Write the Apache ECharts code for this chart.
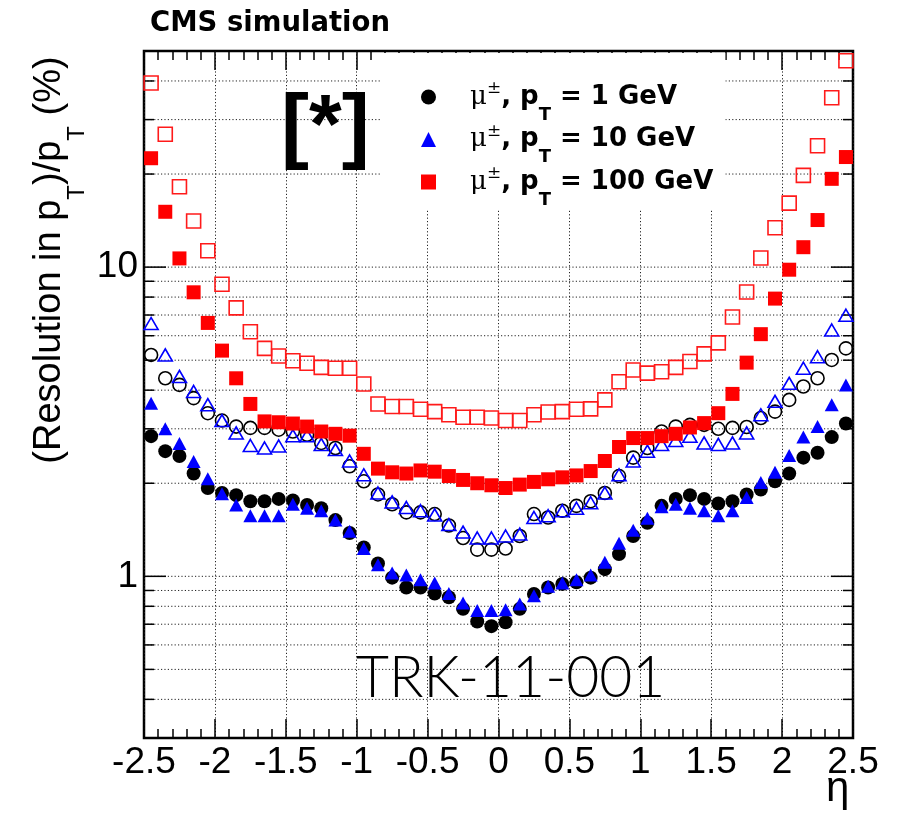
<!DOCTYPE html>
<html>
<head>
<meta charset="utf-8">
<title>CMS simulation - pT resolution vs eta</title>
<script src="https://cdn.jsdelivr.net/npm/echarts@6/dist/echarts.min.js"></script>
<style>
  html, body { margin: 0; padding: 0; background: #fff; }
  #chart { width: 902px; height: 823px; }
</style>
</head>
<body>
<div id="chart"></div>
<script>
// bin centres in eta (bins of 0.1)
const etaBins = [-2.45, -2.35, -2.25, -2.15, -2.05, -1.95, -1.85, -1.75, -1.65, -1.55,
  -1.45, -1.35, -1.25, -1.15, -1.05, -0.95, -0.85, -0.75, -0.65, -0.55,
  -0.45, -0.35, -0.25, -0.15, -0.05, 0.05, 0.15, 0.25, 0.35, 0.45,
  0.55, 0.65, 0.75, 0.85, 0.95, 1.05, 1.15, 1.25, 1.35, 1.45,
  1.55, 1.65, 1.75, 1.85, 1.95, 2.05, 2.15, 2.25, 2.35, 2.45];

// filled markers
const res1GeV = [2.84, 2.54, 2.45, 2.15, 1.93, 1.86, 1.83, 1.75, 1.75, 1.78,
  1.76, 1.70, 1.66, 1.52, 1.38, 1.24, 1.10, 0.99, 0.92, 0.92,
  0.88, 0.856, 0.785, 0.714, 0.69, 0.71, 0.785, 0.877, 0.92, 0.945,
  0.956, 0.99, 1.055, 1.18, 1.35, 1.49, 1.69, 1.78, 1.83, 1.78,
  1.72, 1.75, 1.84, 1.91, 2.03, 2.15, 2.42, 2.51, 2.82, 3.12];
const res10GeV = [3.63, 3.00, 2.69, 2.35, 2.07, 1.85, 1.70, 1.57, 1.57, 1.57,
  1.71, 1.66, 1.63, 1.52, 1.40, 1.23, 1.09, 1.025, 1.01, 0.975,
  0.952, 0.88, 0.82, 0.775, 0.775, 0.779, 0.814, 0.866, 0.929, 0.952,
  0.975, 1.01, 1.11, 1.28, 1.41, 1.54, 1.68, 1.71, 1.66, 1.63,
  1.57, 1.63, 1.80, 2.01, 2.17, 2.46, 2.82, 3.05, 3.59, 4.16];
const res100GeV = [22.5, 15.1, 10.67, 8.29, 6.60, 5.37, 4.37, 3.61, 3.17, 3.15,
  3.12, 3.05, 2.94, 2.89, 2.85, 2.49, 2.23, 2.17, 2.15, 2.20,
  2.18, 2.11, 2.05, 2.00, 1.97, 1.93, 1.98, 2.02, 2.06, 2.09,
  2.12, 2.19, 2.36, 2.62, 2.80, 2.80, 2.84, 2.89, 3.03, 3.13,
  3.37, 3.89, 4.91, 6.07, 7.91, 9.81, 11.6, 14.2, 19.3, 22.7];

// open markers
const res1GeVOpen = [5.20, 4.37, 4.16, 3.77, 3.37, 3.19, 3.05, 3.02, 3.02, 2.98,
  2.94, 2.87, 2.70, 2.60, 2.27, 2.03, 1.84, 1.71, 1.61, 1.61,
  1.59, 1.46, 1.33, 1.22, 1.22, 1.23, 1.35, 1.59, 1.55, 1.63,
  1.69, 1.75, 1.86, 2.11, 2.42, 2.60, 2.94, 3.05, 3.09, 3.09,
  3.00, 3.02, 3.04, 3.25, 3.41, 3.72, 4.11, 4.37, 5.01, 5.46];
const res10GeVOpen = [6.57, 5.20, 4.43, 3.96, 3.59, 3.19, 2.91, 2.65, 2.60, 2.64,
  2.85, 2.85, 2.67, 2.57, 2.36, 2.13, 1.86, 1.74, 1.67, 1.63,
  1.58, 1.47, 1.39, 1.33, 1.33, 1.35, 1.37, 1.55, 1.57, 1.63,
  1.66, 1.73, 1.86, 2.13, 2.36, 2.54, 2.67, 2.75, 2.84, 2.70,
  2.67, 2.70, 2.91, 3.33, 3.68, 4.21, 4.71, 5.13, 6.26, 6.99];
const res100GeVOpen = [39.4, 26.9, 18.2, 14.1, 11.3, 8.80, 7.38, 6.18, 5.46, 5.16,
  4.98, 4.89, 4.74, 4.71, 4.71, 4.19, 3.61, 3.54, 3.54, 3.47,
  3.41, 3.33, 3.27, 3.27, 3.25, 3.19, 3.19, 3.33, 3.40, 3.41,
  3.47, 3.48, 3.72, 4.26, 4.65, 4.54, 4.59, 4.74, 4.95, 5.24,
  5.69, 6.90, 8.31, 10.7, 13.4, 16.1, 19.8, 24.7, 35.3, 46.5];

// axes
const etaMin = -2.5, etaMax = 2.5;
const resMin = 0.3, resMax = 50;
const yGridValues = [0.4, 0.5, 0.6, 0.7, 0.8, 0.9, 1, 2, 3, 4, 5, 6, 7, 8, 9, 10, 20, 30, 40];
const yMajorTicks = [1, 10];

const seriesNames = ['\u03bc\u00b1, pT = 1 GeV', '\u03bc\u00b1, pT = 10 GeV', '\u03bc\u00b1, pT = 100 GeV'];
const legendRich = [
  '{mu|\u03bc}{sup|\u00b1}{b|, p}{sub|T}{b| = 1 GeV}',
  '{mu|\u03bc}{sup|\u00b1}{b|, p}{sub|T}{b| = 10 GeV}',
  '{mu|\u03bc}{sup|\u00b1}{b|, p}{sub|T}{b| = 100 GeV}'
];

const chart = echarts.init(document.getElementById('chart'));

function pairs(values) {
  return etaBins.map((e, i) => [e, values[i]]);
}

// dotted horizontal grid + left/right ticks, placed through the log axis
function gridItem(params, api) {
  const v = api.value(1);
  const a = api.coord([etaMin, v]);
  const b = api.coord([etaMax, v]);
  const t = yMajorTicks.indexOf(v) >= 0 ? 22 : 10;
  return {
    type: 'group',
    children: [
      { type: 'line', shape: { x1: a[0], y1: a[1], x2: b[0], y2: b[1] },
        style: { stroke: '#222', lineWidth: 1, lineDash: [1.2, 2.2] } },
      { type: 'line', shape: { x1: a[0], y1: a[1], x2: a[0] + t, y2: a[1] },
        style: { stroke: '#000', lineWidth: 1.5 } },
      { type: 'line', shape: { x1: b[0] - t, y1: b[1], x2: b[0], y2: b[1] },
        style: { stroke: '#000', lineWidth: 1.5 } }
    ]
  };
}

const openStyle = color => ({ color: 'rgba(0,0,0,0)', borderColor: color, borderWidth: 1.6, opacity: 1 });
const fillStyle = color => ({ color: color, opacity: 1 });

const tickStyle = { color: '#000', width: 1.5 };

chart.setOption({
  animation: false,
  backgroundColor: '#fff',
  title: [
    { text: 'CMS simulation', left: 150, top: 10, padding: 0,
      textStyle: { fontFamily: 'DejaVu Sans', fontWeight: 'bold', fontSize: 27.5, color: '#000' } },
    { text: '[*]', left: 281, top: 88, padding: 0,
      textStyle: { fontFamily: 'Liberation Sans', fontWeight: 'bold', fontSize: 84, color: '#000' } },
    { text: 'TRK-11-001', left: 356, top: 650, padding: 0,
      textStyle: { fontFamily: 'Lato', fontWeight: 300, fontSize: 57, color: '#000' } },
    { text: '\u03b7', left: 826, top: 768, padding: 0,
      textStyle: { fontFamily: 'Liberation Sans', fontWeight: 'normal', fontSize: 42, color: '#000' } }
  ],
  graphic: [{
    type: 'text',
    x: 50, y: 260,
    rotation: Math.PI / 2,
    style: {
      text: '(Resolution in p{sub|T})/p{sub|T} (%)',
      fontFamily: 'Liberation Sans', fontSize: 38, fill: '#000',
      align: 'center', verticalAlign: 'middle',
      rich: {
        sub: { fontFamily: 'Liberation Sans', fontSize: 24, lineHeight: 24, padding: [54, 0, 0, 0], fill: '#000' }
      }
    }
  }],
  legend: {
    data: seriesNames,
    orient: 'vertical',
    left: 380, top: 53,
    padding: [17, 12, 1, 41],
    itemGap: -11.5,
    itemWidth: 15, itemHeight: 15,
    backgroundColor: '#fff',
    selectedMode: false,
    formatter: name => legendRich[seriesNames.indexOf(name)],
    textStyle: {
      color: '#000', fontFamily: 'DejaVu Sans', fontWeight: 'bold', fontSize: 26,
      rich: {
        b: { color: '#000', fontFamily: 'DejaVu Sans', fontWeight: 'bold', fontSize: 26, lineHeight: 30 },
        mu: { color: '#000', fontFamily: 'DejaVu Serif', fontWeight: 'normal', fontSize: 26, lineHeight: 30, padding: [0, 0, 0, 29] },
        sup: { color: '#000', fontFamily: 'DejaVu Serif', fontWeight: 'normal', fontSize: 17, lineHeight: 17, padding: [0, 0, 16, 0] },
        sub: { color: '#000', fontFamily: 'DejaVu Sans', fontWeight: 'bold', fontSize: 18, lineHeight: 18, padding: [36, 0, 0, 0] }
      }
    }
  },
  grid: {
    left: 144, right: 49, top: 51, bottom: 85,
    show: true, borderColor: '#000', borderWidth: 2.5
  },
  xAxis: [{
    type: 'value', position: 'bottom',
    min: etaMin, max: etaMax, interval: 0.5,
    axisLine: { show: false },
    axisTick: { show: true, inside: true, length: 19, lineStyle: tickStyle },
    minorTick: { show: true, splitNumber: 5, length: 9, lineStyle: tickStyle },
    splitLine: { show: true, lineStyle: { color: '#222', width: 1, type: [1.2, 2.2] } },
    axisLabel: { show: true, showMinLabel: true, showMaxLabel: true, margin: 6,
      fontFamily: 'Liberation Sans', fontSize: 37, color: '#000' }
  }, {
    type: 'value', position: 'top',
    min: etaMin, max: etaMax, interval: 0.5,
    axisLine: { show: false },
    axisTick: { show: true, inside: true, length: 19, lineStyle: tickStyle },
    minorTick: { show: true, splitNumber: 5, length: 9, lineStyle: tickStyle },
    splitLine: { show: false },
    axisLabel: { show: false }
  }],
  yAxis: {
    type: 'log', logBase: 10,
    min: resMin, max: resMax,
    axisLine: { show: false },
    axisTick: { show: false },
    splitLine: { show: false },
    axisLabel: {
      margin: 6, padding: [10, 0, 0, 0],
      fontFamily: 'Liberation Sans', fontSize: 37, color: '#000',
      showMinLabel: false, showMaxLabel: false,
      formatter: v => (yMajorTicks.indexOf(Math.round(v * 1000) / 1000) >= 0 ? String(Math.round(v)) : '')
    }
  },
  series: [
    { type: 'custom', name: 'grid', silent: true, z: 1,
      renderItem: gridItem,
      data: yGridValues.map(v => [0, v]) },
    { type: 'scatter', name: '1 GeV open', symbol: 'circle', symbolSize: 13,
      itemStyle: openStyle('#000'), data: pairs(res1GeVOpen) },
    { type: 'scatter', name: '10 GeV open', symbol: 'triangle', symbolSize: [14, 12],
      itemStyle: openStyle('#0000ff'), data: pairs(res10GeVOpen) },
    { type: 'scatter', name: '100 GeV open', symbol: 'rect', symbolSize: 14,
      itemStyle: openStyle('#ff1a1a'), data: pairs(res100GeVOpen) },
    { type: 'scatter', name: seriesNames[0], symbol: 'circle', symbolSize: 14,
      itemStyle: fillStyle('#000'), data: pairs(res1GeV) },
    { type: 'scatter', name: seriesNames[1], symbol: 'triangle', symbolSize: [14, 13],
      itemStyle: fillStyle('#0000ff'), data: pairs(res10GeV) },
    { type: 'scatter', name: seriesNames[2], symbol: 'rect', symbolSize: 14,
      itemStyle: fillStyle('#ff0000'), data: pairs(res100GeV) }
  ]
});

window.addEventListener('resize', function () {
  chart.resize();
});
</script>
</body>
</html>
